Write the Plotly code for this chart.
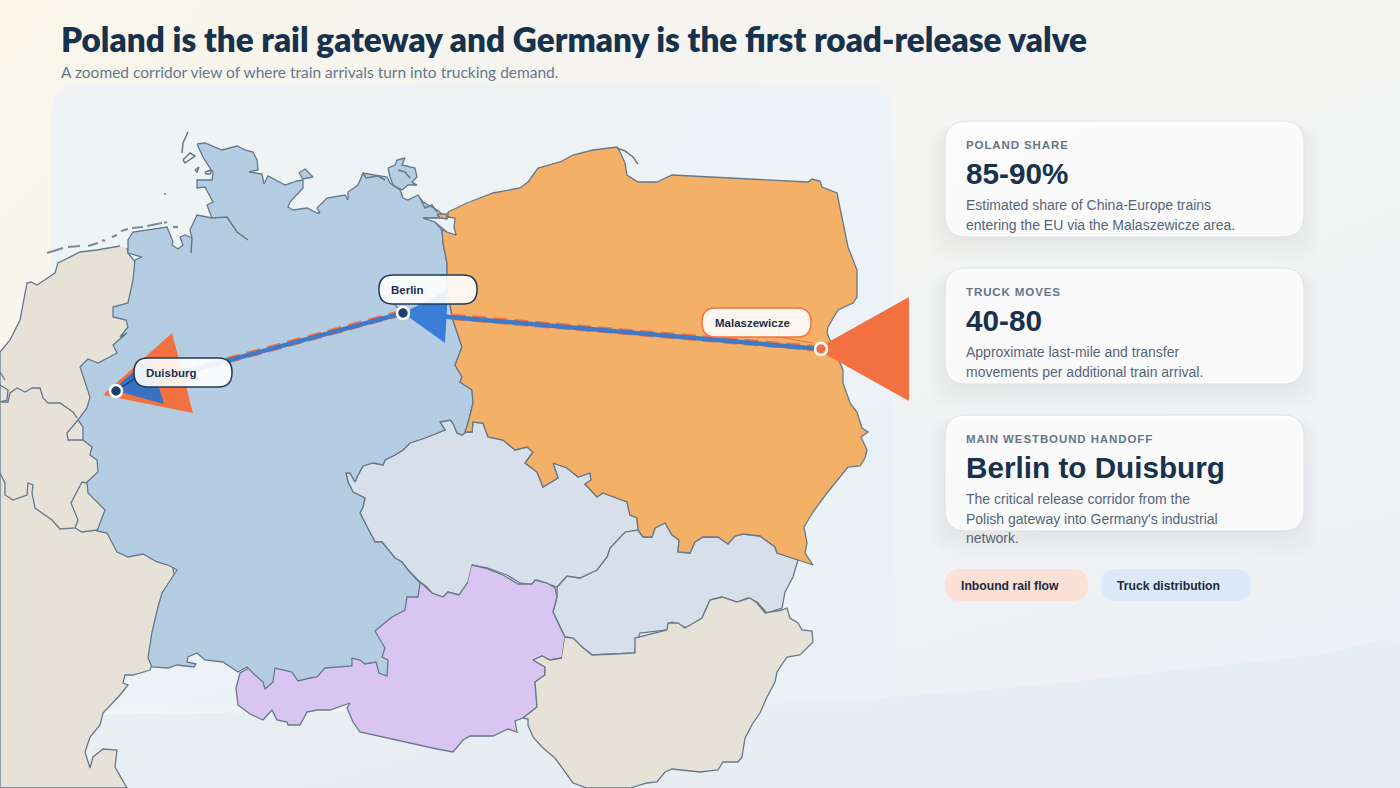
import numpy as np
import plotly.graph_objects as go

# country outlines (map units = px of the 1400x788 page)
west = [(120,246),(97,250),(80,252),(58,263),(55,273),(37,285),(31,282),(27,283),(20,320),(10,340),(0,352),
        (0,788),(127,788),(115,767),(117,750),(103,749),(93,757),(90,768),(85,752),(90,737),(100,725),(103,713),
        (120,695),(128,685),(123,683),(125,675),(133,675),(150,670),(180,600),(135,400),(135,262),(128,253),(127,248)]
hungary = [(565,637),(573,638),(582,647),(592,655),(615,654),(635,653),(635,638),(657,632),(667,630),(668,623),(678,623),
           (685,628),(702,618),(710,600),(722,597),(737,602),(750,598),(757,603),(765,613),(782,610),(787,608),(790,618),
           (798,623),(802,630),(812,631),(813,642),(800,655),(787,657),(777,672),(775,682),(767,697),(760,713),(753,723),
           (745,738),(742,757),(738,762),(723,762),(718,770),(700,772),(672,769),(665,772),(657,782),(647,783),(630,788),
           (587,788),(573,783),(555,758),(543,748),(533,737),(528,725),(528,719),(523,718),(537,707),(535,682),(545,675),
           (545,667),(533,660),(542,656),(550,660),(562,658)]
slovakia = [(638,530),(643,537),(652,537),(655,528),(665,523),(672,535),(679,540),(678,552),(690,553),(695,542),(703,537),
            (718,537),(728,544),(735,536),(743,534),(760,536),(775,547),(777,553),(798,560),(793,577),(785,592),(782,608),
            (767,613),(757,602),(748,598),(737,602),(722,597),(710,600),(702,618),(687,628),(672,622),(667,630),(640,633),
            (635,648),(635,653),(615,654),(592,655),(582,647),(573,638),(565,637),(560,627),(553,612),(557,597),(557,587),
            (567,576),(580,578),(597,570),(607,557),(610,548),(625,532)]
czechia = [(465,432),(472,432),(473,422),(483,423),(488,437),(503,440),(515,450),(527,447),(533,452),(525,463),(537,472),
           (543,487),(558,478),(553,463),(567,468),(578,477),(590,473),(591,480),(585,484),(597,497),(603,493),(627,502),
           (630,515),(637,518),(638,530),(625,532),(610,548),(607,557),(597,570),(580,578),(567,576),(557,587),(537,580),
           (532,585),(520,583),(507,575),(487,568),(472,565),(468,582),(459,595),(448,592),(443,597),(432,593),(427,587),
           (420,582),(408,570),(402,562),(395,558),(382,542),(375,542),(367,527),(360,513),(363,507),(365,498),(353,492),
           (348,482),(346,473),(350,473),(355,482),(357,477),(363,466),(373,463),(383,465),(385,460),(395,455),(403,450),
           (410,443),(425,438),(445,430),(440,422),(450,420),(453,423),(457,433),(462,435),(465,432)]
austria = [(472,565),(485,568),(503,575),(518,584),(532,584),(535,580),(547,583),(555,588),(557,597),(553,612),(560,627),
           (565,637),(562,658),(550,660),(542,656),(533,660),(545,667),(545,675),(535,682),(537,707),(523,718),(515,721),
           (517,732),(508,729),(493,736),(470,736),(463,740),(453,752),(437,749),(397,740),(360,732),(353,722),(347,708),
           (350,703),(330,710),(317,710),(307,712),(300,725),(288,725),(287,722),(277,720),(272,710),(263,720),(250,714),
           (238,705),(236,688),(240,673),(300,640),(420,582),(432,593),(443,597),(448,592),(459,595),(468,582)]
germany = [(197,144),(205,143),(222,150),(237,146),(245,150),(253,152),(257,160),(258,170),(249,172),(262,174),(264,184),
           (268,176),(285,185),(297,181),(303,180),(303,188),(290,202),(288,207),(293,210),(307,208),(317,213),(320,213),
           (317,208),(327,198),(345,195),(348,200),(348,192),(358,185),(363,173),(387,177),(390,183),(400,190),(403,198),
           (408,200),(418,195),(423,202),(437,210),(442,214),(437,218),(423,218),(435,222),(442,230),(443,243),(447,263),
           (447,290),(453,320),(462,347),(455,365),(462,377),(460,382),(472,390),(473,403),(468,423),(465,433),(462,435),
           (457,433),(453,423),(450,420),(440,422),(445,430),(425,438),(410,443),(403,450),(395,455),(385,460),(383,465),
           (373,463),(363,466),(357,477),(355,482),(350,473),(346,473),(348,482),(353,492),(365,498),(363,507),(360,513),
           (367,527),(375,542),(382,542),(395,558),(402,562),(408,570),(420,583),(418,597),(407,597),(405,610),(392,617),
           (375,631),(385,648),(382,657),(388,660),(387,676),(379,673),(376,662),(365,664),(360,660),(352,658),(352,666),
           (325,668),(317,677),(310,678),(298,681),(292,672),(275,668),(273,682),(265,689),(263,682),(255,675),(247,667),
           (238,672),(223,662),(205,660),(197,653),(188,657),(187,662),(196,664),(194,667),(177,665),(168,668),(152,667),
           (148,658),(152,632),(158,607),(162,593),(177,570),(168,565),(157,562),(143,554),(128,557),(117,552),(107,533),
           (97,531),(105,510),(88,493),(87,482),(98,472),(97,460),(90,455),(92,447),(83,440),(83,427),(78,420),(87,408),
           (90,397),(80,367),(88,359),(98,363),(117,353),(113,345),(127,333),(120,337),(128,327),(126,320),(113,317),
           (113,307),(128,303),(133,280),(135,260),(142,257),(128,253),(128,240),(133,232),(167,227),(173,242),(172,245),
           (178,249),(183,245),(180,237),(185,235),(192,238),(190,230),(197,215),(212,218),(207,205),(213,202),(205,187),
           (197,188),(197,180),(212,180),(213,173),(203,157),(197,144),
           (None,None),(299,173),(305,169),(313,177),(303,179),(299,173),
           (None,None),(388,168),(395,165),(397,160),(405,158),(402,165),(415,168),(417,177),(412,182),(417,185),(408,185),
           (402,190),(393,185),(390,177),(388,168)]
poland = [(448,212),(467,203),(493,193),(520,188),(528,182),(538,168),(560,162),(573,155),(593,150),(617,147),(620,152),
          (625,163),(627,175),(638,182),(657,182),(672,175),(808,182),(812,179),(820,181),(822,187),(837,193),(840,207),
          (845,230),(848,247),(857,270),(857,297),(853,303),(838,310),(828,327),(827,333),(843,370),(843,383),(848,397),
          (850,403),(857,412),(862,428),(868,432),(861,437),(867,450),(865,458),(860,466),(848,467),(827,493),(813,512),
          (804,527),(807,543),(805,553),(813,565),(798,560),(777,553),(775,547),(760,536),(743,534),(735,536),(728,544),
          (718,537),(703,537),(695,542),(690,553),(678,552),(679,540),(672,535),(665,523),(655,528),(652,537),(643,537),
          (638,530),(637,518),(630,515),(627,502),(603,493),(597,497),(585,484),(591,480),(590,473),(578,477),(567,468),
          (553,463),(558,478),(543,487),(537,472),(525,463),(533,452),(527,447),(515,450),(503,440),(488,437),(483,423),
          (473,422),(472,432),(465,432),(468,423),(473,403),(472,390),(460,382),(462,377),(455,365),(462,347),(453,320),
          (447,290),(447,263),(443,243),(442,230),(456,235),(448,217),(448,212),
          (None,None),(437,214),(447,214),(446,219),(440,218),(437,214)]
lagoon = [(423,218),(440,218),(447,219),(448,217),(455,218),(454,227),(456,235),(447,232),(442,228),(435,222),(423,218)]
# small islands and estuary lines
coast_bits = [(182,153),(183,143),(188,132),(None,None),(183,160),(190,153),(195,156),(185,163),(183,160),(None,None),
              (195,170),(199,167),(197,172),(195,170),(None,None),(205,172),(212,170),(210,174),(206,174),(205,172),(None,None),
              (212,218),(227,217),(237,232),(248,240),(None,None),(192,238),(191,253),(None,None),
              (617,148),(625,151),(633,157),(638,164),(None,None),(164,194),(166,194),(None,None),
              (363,173),(366,178),(378,176),(385,180),(None,None),(398,170),(405,172),(410,178),(None,None),
              (420,198),(425,208),(432,205),(437,212)]
frisian = [(47,253),(63,248),(None,None),(68,247),(80,246),(None,None),(88,246),(98,243),(None,None),(102,240),(105,241),
           (None,None),(112,237),(117,235),(None,None),(121,231),(128,229),(None,None),(132,228),(143,227),(None,None),
           (147,226),(162,223),(None,None),(164,223),(167,222),(None,None),(173,227),(178,227)]
inner_borders = [(77,418),(73,412),(60,403),(48,403),(43,398),(40,388),(32,388),(25,392),(17,388),(10,393),(8,402),(2,402),
                 (None,None),(0,385),(8,390),(7,400),(0,402),(None,None),(0,372),(5,380),(None,None),
                 (78,420),(67,433),(68,440),(83,440),(None,None),
                 (87,483),(82,482),(71,503),(78,520),(75,528),(60,529),(52,520),(35,508),(32,493),(33,485),(28,483),(27,495),
                 (13,500),(5,495),(5,483),(0,473),(None,None),(75,528),(82,532),(97,530)]
# bottom swell behind everything
swell = [(0,716),(300,712),(600,708),(893,697),(1050,684),(1200,668),(1320,655),(1400,645),(1400,788),(0,788)]

# route
city_names = ["Malaszewicze", "Berlin", "Duisburg"]
city_x = [821, 403, 116]
city_y = [349, 313, 391]
rail_y = [348.6, 312.6, 390.6]
mal_head = [(816,349),(909,297),(909,401)]
ber_head = [(403,313),(448,290),(445,343)]
dui_head_rail = [(103,395),(172,333),(193,413)]
dui_head_truck = [(113,390),(150,357),(164,404)]
callouts = [[(813,343),(767,335)], [(403,313),(393,303)], [(116,391),(140,375)]]
callout_cols = ["#f4703f", "#6b7f93", "#1d3a5a"]

# cards and text
card_top = [121, 268, 415]
card_kick = ["POLAND SHARE", "TRUCK MOVES", "MAIN WESTBOUND HANDOFF"]
card_val = ["85-90%", "40-80", "Berlin to Duisburg"]
card_body = [["Estimated share of China-Europe trains", "entering the EU via the Malaszewicze area."],
             ["Approximate last-mile and transfer", "movements per additional train arrival."],
             ["The critical release corridor from the", "Polish gateway into Germany's industrial", "network."]]
legend_text = ["Inbound rail flow", "Truck distribution"]

NAVY = "#17324d"
LINE = "#66788a"


def xy(pts):
    return [p[0] for p in pts], [p[1] for p in pts]


def pill_path(x0, y0, x1, y1, r):
    return (f"M{x0+r},{y0} L{x1-r},{y0} Q{x1},{y0} {x1},{y0+r} L{x1},{y1-r} Q{x1},{y1} {x1-r},{y1} "
            f"L{x0+r},{y1} Q{x0},{y1} {x0},{y1-r} L{x0},{y0+r} Q{x0},{y0} {x0+r},{y0} Z")


def round_rect(x0, y0, x1, y1, r):
    t = np.linspace(0, np.pi / 2, 10)
    xs = np.concatenate([x1 - r + r * np.sin(t), x1 - r + r * np.cos(t), x0 + r - r * np.sin(t), x0 + r - r * np.cos(t)])
    ys = np.concatenate([y0 + r - r * np.cos(t), y1 - r + r * np.sin(t), y1 - r + r * np.cos(t), y0 + r - r * np.sin(t)])
    return xs.tolist(), ys.tolist()


fig = go.Figure()

# page wash
fig.add_trace(go.Heatmap(x=[0, 700, 1400], y=[0, 394, 788], z=[[0, .42, .55], [.22, .6, .72], [.68, .85, 1]],
                         zsmooth="best", showscale=False, hoverinfo="skip", zmin=0, zmax=1,
                         colorscale=[[0, "#faf6ea"], [.5, "#f4f4f2"], [1, "#ebeff5"]]))


def area(pts, fill, line=LINE, width=1.3):
    x, y = xy(pts)
    fig.add_trace(go.Scatter(x=x, y=y, mode="lines", fill="toself", fillcolor=fill, hoverinfo="skip",
                             line=dict(color=line, width=width)))


def lines(pts, color=LINE, width=1.3, dash=None):
    x, y = xy(pts)
    fig.add_trace(go.Scatter(x=x, y=y, mode="lines", hoverinfo="skip", line=dict(color=color, width=width, dash=dash)))


x_, y_ = xy(swell)
fig.add_trace(go.Scatter(x=x_, y=y_, mode="lines", fill="toself", fillcolor="rgba(224,233,242,0.5)",
                         line=dict(width=0), hoverinfo="skip", line_shape="spline"))
px_, py_ = round_rect(51, 83, 893, 705, 28)
fig.add_trace(go.Scatter(x=px_, y=py_, mode="lines", fill="toself", fillcolor="rgba(232,241,248,0.6)",
                         line=dict(width=0), hoverinfo="skip"))

area(west, "#e6e2d7")
area(slovakia, "#d7e0ea")
area(czechia, "#d7e0ea")
area(austria, "#d9c5f2")
area(hungary, "#e6e2d7")
area(germany, "#b5cde2")
area(poland, "#f4b066")
area(lagoon, "#eef3f7")
lines(coast_bits, width=1.5)
lines(frisian, color="#7b8c9c", width=2.2)
lines(inner_borders)

# route first, the arrowheads sit on top of it
fig.add_trace(go.Scatter(x=city_x, y=rail_y, mode="lines", hoverinfo="skip",
                         line=dict(color="#f37041", width=6.5, dash="14px,7px")))
fig.add_trace(go.Scatter(x=city_x, y=city_y, mode="lines", hoverinfo="skip", line=dict(color="#4079c8", width=4.5)))
area(dui_head_rail, "#f37041", line="rgba(0,0,0,0)", width=0)
area(dui_head_truck, "#3872c4", line="rgba(0,0,0,0)", width=0)
area(mal_head, "#f37041", line="rgba(0,0,0,0)", width=0)
area(ber_head, "#3a7dd6", line="rgba(0,0,0,0)", width=0)
for c, col in zip(callouts, callout_cols):
    lines(c, color=col, width=1.2)
fig.add_trace(go.Scatter(x=city_x, y=city_y, mode="markers", hoverinfo="skip",
                         marker=dict(size=12, color=["#f37041", "#1d3f6f", "#1d3f6f"],
                                     line=dict(color="white", width=2.5))))

fig.update_traces(showlegend=False)

# cards
shapes = []
for top in card_top:
    for k in range(6):
        shapes.append(dict(type="path", path=pill_path(945 - k * 3, top + 4, 1304 + k * 3, top + 116 + 4 + k * 4, 24),
                           fillcolor="rgba(70,90,110,0.012)", line=dict(width=0), layer="above"))
    shapes.append(dict(type="path", path=pill_path(945, top, 1304, top + 116, 22),
                       fillcolor="rgba(255,255,255,0.8)", line=dict(color="#dde3e9", width=1), layer="above"))

# map labels
label_boxes = [(702, 308, 811, 337, "#f4703f"), (379, 275, 477, 304, "#1d3a5a"), (134, 358, 232, 387, "#1d3a5a")]
label_left = [713, 389, 144]
for b in label_boxes:
    shapes.append(dict(type="path", path=pill_path(b[0], b[1], b[2], b[3], 14), fillcolor="rgba(255,255,255,0.9)",
                       line=dict(color=b[4], width=1.5), layer="above"))

# legend pills
shapes.append(dict(type="path", path=pill_path(945, 569, 1088, 601, 16), fillcolor="#fbe0d5", line=dict(width=0), layer="above"))
shapes.append(dict(type="path", path=pill_path(1101, 569, 1251, 601, 16), fillcolor="#dde9f8", line=dict(width=0), layer="above"))

ann = []


def txt(x, y, s, size, color, weight=400, fam="Liberation Sans"):
    ann.append(dict(x=x, y=y, xref="x", yref="y", text=s, showarrow=False, xanchor="left", yanchor="middle", align="left",
                    font=dict(family=fam, size=size, color=color, weight=weight)))


txt(59, 39, "Poland is the rail gateway and Germany is the first road-release valve", 33.3, NAVY, 800, "Lato")
txt(59, 72, "A zoomed corridor view of where train arrivals turn into trucking demand.", 15.5, "#66788a", 400, "Lato")
for i, top in enumerate(card_top):
    txt(964, top + 24, card_kick[i], 11.5, "#64768a", 700)
    txt(964, top + 52, card_val[i], 29.7, NAVY, 700)
    for j, s in enumerate(card_body[i]):
        txt(964, top + 84 + j * 19.5, s, 14, "#56657a")
for name, left, b in zip(city_names, label_left, label_boxes):
    txt(left, (b[1] + b[3]) / 2, name, 11.5, "#1c2f4a", 700)
txt(959, 585.5, legend_text[0], 12.2, "#1c2a3a", 700)
txt(1115, 585.5, legend_text[1], 12.2, "#1c2a3a", 700)

fig.update_layout(width=1400, height=788, margin=dict(l=0, r=0, t=0, b=0), paper_bgcolor="#f4f4f2", plot_bgcolor="#f4f4f2",
                  xaxis=dict(range=[0, 1400], visible=False, fixedrange=True),
                  yaxis=dict(range=[788, 0], visible=False, fixedrange=True),
                  shapes=shapes, annotations=ann, showlegend=False)

spacing = """
document.body.style.margin = '0';
document.querySelectorAll('.annotation-text').forEach(function (t) {
  if (['POLAND SHARE', 'TRUCK MOVES', 'MAIN WESTBOUND HANDOFF'].indexOf(t.textContent) >= 0) {
    t.style.letterSpacing = '0.9px';
  }
});
"""
fig.write_html("out.html", config={"displayModeBar": False}, post_script=spacing)
